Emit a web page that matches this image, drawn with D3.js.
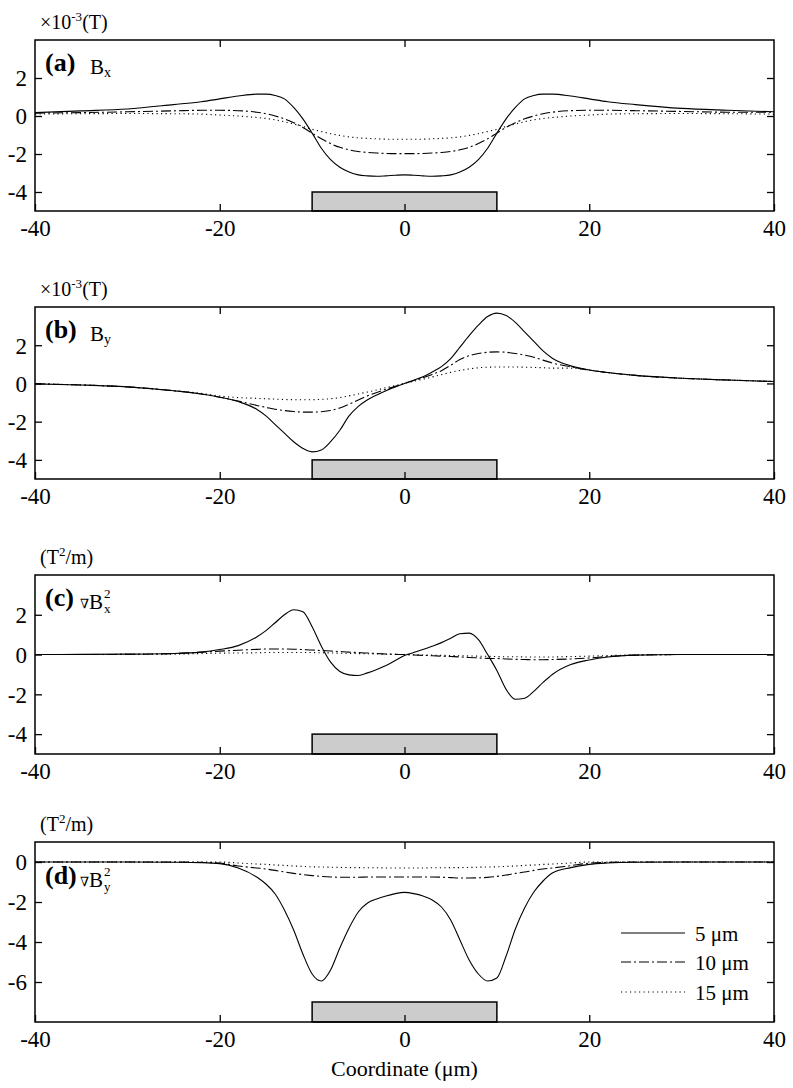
<!DOCTYPE html>
<html>
<head>
<meta charset="utf-8">
<script src="https://cdn.jsdelivr.net/npm/d3@7/dist/d3.min.js"></script>
<style>
  html, body { margin: 0; padding: 0; background: #fff; }
  svg { display: block; }
  svg text { font-family: "Liberation Serif", "Times New Roman", "Nimbus Roman", "DejaVu Serif", serif !important; fill: #000; }
</style>
</head>
<body>
<svg id="chart" width="793" height="1088"></svg>
<script>
// ---- data (x in µm) ----
const xs = [-40,-35,-30,-25,-22,-20,-18,-16,-15,-14,-13,-12,-11,-10,-9,-8,-7,-6,-5,-4,-3,-2,-1,0,
            1,2,3,4,5,6,7,8,9,10,11,12,13,14,15,16,18,20,22,25,30,35,40];

// (a) Bx  (x10^-3 T)
const bx5  = [0.18,0.27,0.37,0.6,0.75,0.9,1.05,1.15,1.15,1.08,0.9,0.45,-0.15,-0.9,-1.7,-2.3,-2.7,-2.95,-3.1,-3.15,-3.17,-3.15,-3.12,-3.1,
              -3.12,-3.15,-3.17,-3.15,-3.1,-2.95,-2.7,-2.3,-1.7,-0.9,-0.15,0.45,0.9,1.08,1.15,1.15,1.05,0.9,0.75,0.6,0.4,0.3,0.22];
const bx10 = [0.15,0.18,0.22,0.27,0.3,0.3,0.28,0.2,0.12,0.0,-0.15,-0.35,-0.6,-0.9,-1.2,-1.45,-1.65,-1.78,-1.87,-1.92,-1.95,-1.97,-1.98,-1.98,
              -1.98,-1.97,-1.95,-1.92,-1.87,-1.78,-1.65,-1.45,-1.2,-0.9,-0.6,-0.35,-0.15,0.0,0.12,0.2,0.28,0.3,0.3,0.28,0.24,0.2,0.2];
const bx15 = [0.1,0.12,0.13,0.12,0.1,0.05,0.0,-0.08,-0.13,-0.2,-0.3,-0.42,-0.55,-0.7,-0.82,-0.93,-1.02,-1.1,-1.15,-1.18,-1.2,-1.22,-1.22,-1.22,
              -1.22,-1.22,-1.2,-1.18,-1.15,-1.1,-1.02,-0.93,-0.82,-0.7,-0.55,-0.42,-0.3,-0.2,-0.13,-0.08,0.0,0.05,0.1,0.12,0.13,0.12,0.1];

// (b) By  (x10^-3 T)
const by5  = [-0.02,-0.08,-0.18,-0.38,-0.55,-0.72,-0.95,-1.35,-1.7,-2.15,-2.6,-3.05,-3.4,-3.58,-3.48,-3.05,-2.45,-1.7,-1.2,-0.85,-0.6,-0.38,-0.18,0,
              0.17,0.35,0.6,0.88,1.3,1.9,2.5,3.05,3.5,3.68,3.55,3.2,2.7,2.2,1.7,1.32,0.92,0.7,0.57,0.42,0.27,0.18,0.1];
const by10 = [-0.02,-0.08,-0.18,-0.38,-0.55,-0.72,-0.92,-1.15,-1.25,-1.35,-1.42,-1.47,-1.5,-1.5,-1.48,-1.42,-1.28,-1.08,-0.87,-0.65,-0.47,-0.3,-0.15,0,
              0.15,0.3,0.47,0.67,0.95,1.25,1.45,1.57,1.63,1.65,1.63,1.57,1.48,1.37,1.22,1.07,0.87,0.7,0.57,0.42,0.27,0.18,0.1];
const by15 = [-0.02,-0.08,-0.18,-0.38,-0.52,-0.66,-0.74,-0.78,-0.8,-0.82,-0.84,-0.85,-0.85,-0.85,-0.83,-0.8,-0.74,-0.65,-0.55,-0.45,-0.34,-0.22,-0.11,0,
              0.11,0.22,0.34,0.46,0.58,0.68,0.76,0.82,0.85,0.86,0.86,0.86,0.85,0.84,0.82,0.8,0.8,0.7,0.57,0.42,0.27,0.18,0.1];

// (c) grad Bx^2  (T^2/m)
const gx5  = [0,0.01,0.02,0.05,0.12,0.25,0.45,0.88,1.2,1.6,2.0,2.25,2.15,1.4,0.42,-0.38,-0.85,-1.02,-1.05,-0.92,-0.75,-0.55,-0.3,-0.05,
              0.1,0.25,0.42,0.6,0.82,1.05,1.08,0.75,0.0,-0.8,-1.75,-2.25,-2.2,-1.85,-1.4,-1.0,-0.5,-0.27,-0.12,-0.03,0,0,0];
const gx10 = [0,0,0.01,0.05,0.12,0.17,0.22,0.26,0.28,0.28,0.28,0.27,0.25,0.23,0.2,0.18,0.15,0.12,0.1,0.08,0.05,0.03,0.01,0,
              -0.02,-0.04,-0.06,-0.08,-0.1,-0.12,-0.15,-0.17,-0.19,-0.2,-0.22,-0.24,-0.25,-0.26,-0.26,-0.25,-0.22,-0.17,-0.1,-0.03,0,0,0];
const gx15 = [0,0,0.01,0.02,0.05,0.07,0.08,0.09,0.1,0.1,0.1,0.1,0.1,0.1,0.09,0.08,0.07,0.06,0.05,0.04,0.03,0.02,0.01,0,
              -0.01,-0.02,-0.03,-0.04,-0.05,-0.06,-0.07,-0.08,-0.09,-0.1,-0.11,-0.11,-0.12,-0.12,-0.12,-0.12,-0.1,-0.08,-0.05,-0.02,0,0,0];

// (d) grad By^2  (T^2/m)
const gy5  = [0,0,0,-0.01,-0.03,-0.08,-0.3,-0.75,-1.1,-1.6,-2.4,-3.4,-4.6,-5.6,-5.95,-5.4,-4.3,-3.3,-2.5,-2.05,-1.85,-1.7,-1.58,-1.52,
              -1.58,-1.7,-1.9,-2.25,-2.9,-3.9,-4.9,-5.6,-5.95,-5.8,-4.7,-3.35,-2.3,-1.5,-0.95,-0.55,-0.28,-0.12,-0.05,-0.01,0,0,0];
const gy10 = [0,0,0,0,-0.02,-0.05,-0.2,-0.3,-0.35,-0.42,-0.5,-0.57,-0.63,-0.68,-0.72,-0.75,-0.76,-0.76,-0.76,-0.75,-0.75,-0.75,-0.75,-0.75,
              -0.75,-0.75,-0.75,-0.76,-0.78,-0.8,-0.8,-0.79,-0.77,-0.72,-0.65,-0.57,-0.5,-0.42,-0.35,-0.3,-0.18,-0.06,-0.02,0,0,0,0];
const gy15 = [0,0,0,0,0,0,-0.05,-0.1,-0.12,-0.15,-0.17,-0.2,-0.22,-0.24,-0.25,-0.26,-0.27,-0.28,-0.28,-0.29,-0.29,-0.3,-0.3,-0.3,
              -0.3,-0.3,-0.29,-0.29,-0.28,-0.28,-0.27,-0.26,-0.25,-0.24,-0.22,-0.2,-0.17,-0.15,-0.12,-0.1,-0.05,0,0,0,0,0,0];

const xTicks = [-40,-20,0,20,40];
const legendLabels = ["5 \u03bcm", "10 \u03bcm", "15 \u03bcm"];
const barRange = [-10, 10];

// ---- layout ----
const FONT = "'Liberation Serif', 'Times New Roman', 'Nimbus Roman', 'DejaVu Serif', serif";
const svg = d3.select("#chart").style("font-family", FONT);
const X0 = 35, X1 = 774;
const x = d3.scaleLinear().domain([-40, 40]).range([X0, X1]);

const styles = [
  { dash: null },
  { dash: "10,3,2,3" },
  { dash: "1.2,3.3" }
];

const panels = [
  { top: 40,  bottom: 211,  dom: [-5, 4], yt: [2,0,-2,-4],    series: [bx5, bx10, bx15], bar: [-5,-4],
    unit: "T", letter: "(a)", sub: "x", grad: false, lblY: 71 },
  { top: 307, bottom: 479,  dom: [-5, 4], yt: [2,0,-2,-4],    series: [by5, by10, by15], bar: [-5,-4],
    unit: "T", letter: "(b)", sub: "y", grad: false, lblY: 338 },
  { top: 575, bottom: 754,  dom: [-5, 4], yt: [2,0,-2,-4],    series: [gx5, gx10, gx15], bar: [-5,-4],
    unit: "T2", letter: "(c)", sub: "x", grad: true, lblY: 606 },
  { top: 842, bottom: 1022, dom: [-8, 1], yt: [0,-2,-4,-6],   series: [gy5, gy10, gy15], bar: [-8,-7],
    unit: "T2", letter: "(d)", sub: "y", grad: true, lblY: 884 }
];

panels.forEach((p, i) => {
  const y = d3.scaleLinear().domain(p.dom).range([p.bottom, p.top]);
  const g = svg.append("g");
  const clipId = "clip" + i;
  svg.append("clipPath").attr("id", clipId).append("rect")
    .attr("x", X0).attr("y", p.top).attr("width", X1 - X0).attr("height", p.bottom - p.top);

  // gray bar
  g.append("rect")
    .attr("x", x(barRange[0])).attr("y", y(p.bar[1]))
    .attr("width", x(barRange[1]) - x(barRange[0])).attr("height", y(p.bar[0]) - y(p.bar[1]))
    .attr("fill", "#cccccc").attr("stroke", "#000").attr("stroke-width", 1.5);

  // curves
  const line = d3.line().x((d, k) => x(xs[k])).y(d => y(d)).curve(d3.curveMonotoneX);
  p.series.forEach((s, k) => {
    g.append("path").datum(s).attr("d", line)
      .attr("clip-path", `url(#${clipId})`)
      .attr("fill", "none").attr("stroke", "#000").attr("stroke-width", 1.1)
      .attr("stroke-dasharray", styles[k].dash);
  });

  // axes (inward ticks, on all sides)
  const tick = 7;
  const bottomAx = d3.axisBottom(x).tickValues(xTicks).tickSize(-tick).tickPadding(8).tickFormat(d3.format("d"));
  const topAx = d3.axisTop(x).tickValues([-20,0,20]).tickSize(-tick).tickFormat("");
  const leftAx = d3.axisLeft(y).tickValues(p.yt).tickSize(-tick).tickPadding(8).tickFormat(d3.format("d"));
  const rightAx = d3.axisRight(y).tickValues(p.yt).tickSize(-tick).tickFormat("");

  const ab = g.append("g").attr("transform", `translate(0,${p.bottom})`).call(bottomAx);
  const at = g.append("g").attr("transform", `translate(0,${p.top})`).call(topAx);
  const al = g.append("g").attr("transform", `translate(${X0},0)`).call(leftAx);
  const ar = g.append("g").attr("transform", `translate(${X1},0)`).call(rightAx);
  [ab, at, al, ar].forEach(a => {
    a.attr("font-family", FONT);
    a.select(".domain").remove();
    a.selectAll(".tick line").attr("stroke", "#000").attr("stroke-width", 1.3);
  });
  ab.selectAll(".tick text").attr("font-size", 23)
    .attr("y", 25).attr("dy", null)
    .text(d => d < 0 ? "-" + Math.abs(d) : d);
  al.selectAll(".tick text").attr("font-size", 23)
    .attr("x", -8).attr("dy", "0.34em")
    .text(d => d < 0 ? "-" + Math.abs(d) : d);

  // frame
  g.append("rect").attr("x", X0).attr("y", p.top).attr("width", X1 - X0).attr("height", p.bottom - p.top)
    .attr("fill", "none").attr("stroke", "#000").attr("stroke-width", 1.5);

  // unit label
  const ut = svg.append("text").attr("x", 40).attr("y", p.top - 11).attr("font-size", 20);
  if (p.unit === "T") {
    ut.append("tspan").text("\u00d710");
    ut.append("tspan").attr("font-size", 13).attr("dy", -8).text("-3");
    ut.append("tspan").attr("dy", 8).text("(T)");
  } else {
    ut.append("tspan").text("(T");
    ut.append("tspan").attr("font-size", 13).attr("dy", -8).text("2");
    ut.append("tspan").attr("dy", 8).text("/m)");
  }

  // panel label
  svg.append("text").attr("x", 45).attr("y", p.lblY).attr("font-size", 26).attr("font-weight", "bold").text(p.letter);
  if (!p.grad) {
    svg.append("text").attr("x", 90).attr("y", p.lblY + 3).attr("font-size", 21).text("B");
    svg.append("text").attr("x", 104).attr("y", p.lblY + 6).attr("font-size", 14).text(p.sub);
  } else {
    svg.append("text").attr("x", 80).attr("y", p.lblY + 2).attr("font-size", 13)
      .style("font-family", "'DejaVu Serif', serif").text("\u2207");
    svg.append("text").attr("x", 89).attr("y", p.lblY + 3).attr("font-size", 21).text("B");
    svg.append("text").attr("x", 104).attr("y", p.lblY - 8).attr("font-size", 13).text("2");
    svg.append("text").attr("x", 104).attr("y", p.lblY + 7).attr("font-size", 13).text(p.sub);
  }

  // legend in last panel
  if (i === 3) {
    const ly = [933, 962, 992];
    legendLabels.forEach((lab, k) => {
      svg.append("line").attr("x1", 621).attr("x2", 685).attr("y1", ly[k]).attr("y2", ly[k])
        .attr("stroke", "#000").attr("stroke-width", 1.1).attr("stroke-dasharray", styles[k].dash);
      svg.append("text").attr("x", 695).attr("y", ly[k] + 8).attr("font-size", 21).text(lab);
    });
  }
});

// x axis title
svg.append("text").attr("x", x(0)).attr("y", 1076).attr("text-anchor", "middle").attr("font-size", 22)
  .text("Coordinate (\u03bcm)");
</script>
</body>
</html>
